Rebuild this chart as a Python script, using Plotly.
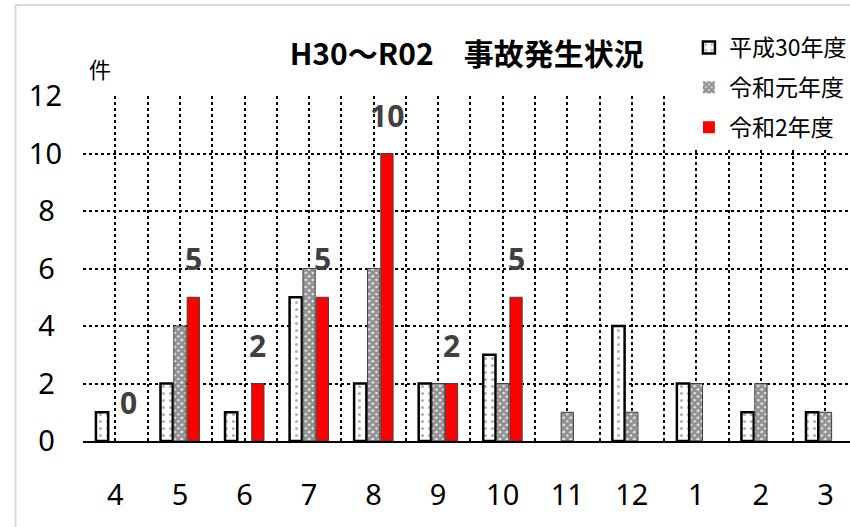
import plotly.graph_objects as go

months = ["4", "5", "6", "7", "8", "9", "10", "11", "12", "1", "2", "3"]
h30 = [1, 2, 1, 5, 2, 2, 3, 0, 4, 2, 1, 1]
r01 = [0, 4, 0, 6, 6, 2, 2, 1, 1, 2, 2, 1]
r02 = [0, 5, 2, 5, 10, 2, 5, None, None, None, None, None]
series_names = ["平成30年度", "令和元年度", "令和2年度"]
y_ticks = [0, 2, 4, 6, 8, 10, 12]
y_tick_labels = [str(v) for v in y_ticks]

x = list(range(len(months)))
BARGAP = 0.38
slot = (1 - BARGAP) / 3

NUM_FONT = "Noto Sans, sans-serif"
CJK_FONT = "Noto Sans CJK JP, sans-serif"


def edge(values, w):
    return [0 if (v is None or v == 0) else w for v in values]


fig = go.Figure()
fig.add_trace(go.Bar(
    x=x, y=h30, name=series_names[0], legendgroup="a",
    marker=dict(color="white", line=dict(color="black", width=edge(h30, 2.5)),
                pattern=dict(shape=".", fgcolor="#606060", bgcolor="white", size=7, solidity=0.15)),
))
fig.add_trace(go.Bar(
    x=x, y=r01, name=series_names[1], legendgroup="b",
    marker=dict(color="white", line=dict(color="#404040", width=edge(r01, 1)),
                pattern=dict(shape="x", fgcolor="#333333", bgcolor="#eeeeee", size=5, solidity=0.8)),
))
fig.add_trace(go.Bar(
    x=x, y=r02, name=series_names[2], legendgroup="c",
    marker=dict(color="#ff0000", line=dict(color="#404040", width=edge(r02, 1))),
))

annotations = []
for xi, v in zip(x, r02):
    if v is None:
        continue
    annotations.append(dict(
        x=xi + slot, y=v, xref="x", yref="y", text=str(v), showarrow=False,
        yanchor="bottom", yshift=16,
        font=dict(family=NUM_FONT, size=30, color="#404040", weight="bold"),
    ))
annotations.append(dict(
    x=0.0225, y=1.081, xref="paper", yref="paper", text="件", showarrow=False,
    xanchor="center", yanchor="middle",
    font=dict(family=CJK_FONT, size=22, color="black"),
))

grid = dict(showgrid=True, gridcolor="black", griddash="dot", gridwidth=1.5)

fig.update_layout(
    width=850, height=527,
    margin=dict(l=83, r=0, t=96, b=86, autoexpand=False),
    paper_bgcolor="white", plot_bgcolor="white",
    barmode="group", bargap=BARGAP, bargroupgap=0.08,
    title=dict(text="H30～R02　事故発生状況", x=0.549, xanchor="center", y=0.896, yanchor="middle",
               font=dict(family=CJK_FONT, size=30, color="black", weight="bold")),
    legend=dict(x=0.79, xanchor="left", y=1.203, yanchor="top", bgcolor="white",
                font=dict(family=CJK_FONT, size=23, color="black"),
                tracegroupgap=7, itemwidth=30),
    xaxis=dict(type="linear", range=[-0.502, 11.38], tickmode="array", tickvals=x, ticktext=months,
               ticks="", ticklabelstandoff=27, showline=True, linecolor="black", linewidth=1.5,
               tickfont=dict(family=NUM_FONT, size=29, color="black"), zeroline=False,
               minor=dict(tick0=0.5, dtick=1, **grid), **grid),
    yaxis=dict(range=[0, 12.001], tickmode="array", tickvals=y_ticks,
               ticktext=[t if len(t) > 1 else t + "\u2005" for t in y_tick_labels],
               ticks="", ticklabelstandoff=20, zeroline=False,
               tickfont=dict(family=NUM_FONT, size=29, color="black"), **grid),
    annotations=annotations,
    showlegend=True,
    shapes=[dict(type="rect", xref="paper", yref="paper", x0=-0.088, x1=1.05, y0=-0.4, y1=1.264,
                 line=dict(color="#d9d9d9", width=2), layer="below")],
)

fig.write_html("out.html", config={"displayModeBar": False},
               post_script="document.body.style.margin='0';")
